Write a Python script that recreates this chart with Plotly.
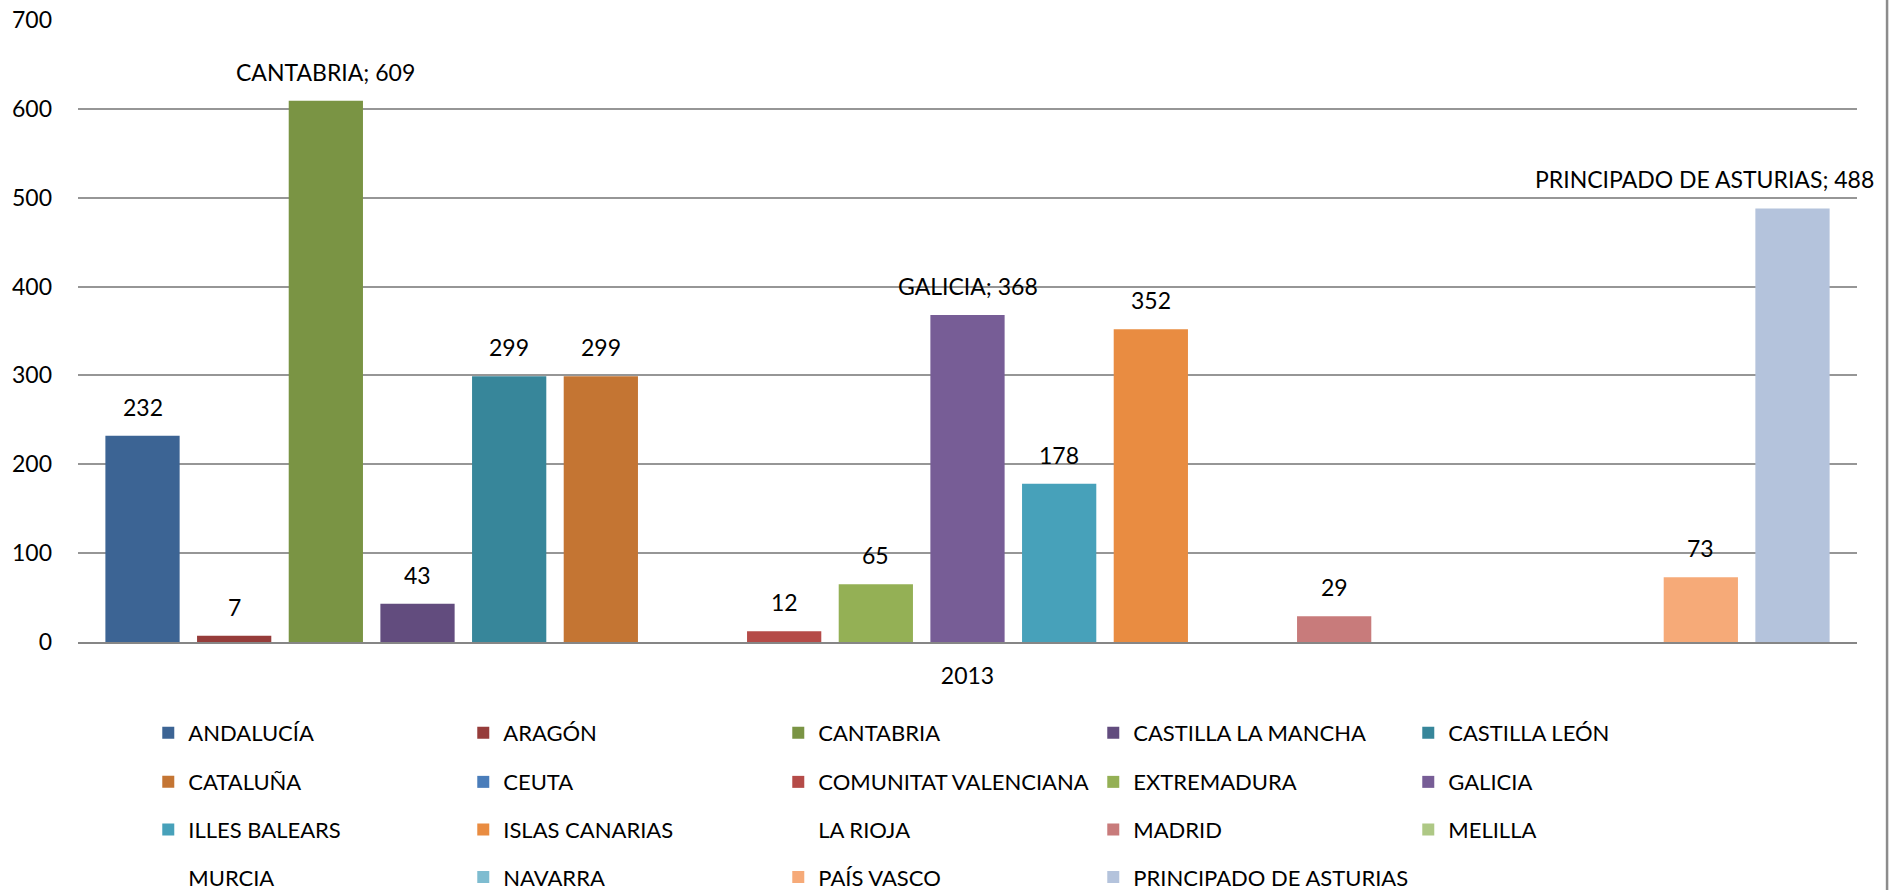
import plotly.graph_objects as go

#%% datos

anio = "2013"
comunidades = ["ANDALUCÍA", "ARAGÓN", "CANTABRIA", "CASTILLA LA MANCHA", "CASTILLA LEÓN",
               "CATALUÑA", "CEUTA", "COMUNITAT VALENCIANA", "EXTREMADURA", "GALICIA",
               "ILLES BALEARS", "ISLAS CANARIAS", "LA RIOJA", "MADRID", "MELILLA",
               "MURCIA", "NAVARRA", "PAÍS VASCO", "PRINCIPADO DE ASTURIAS"]
valores = [232, 7, 609, 43, 299,
           299, None, 12, 65, 368,
           178, 352, None, 29, None,
           None, None, 73, 488]
colores = ["#3C6494", "#963C3A", "#7A9444", "#624C7E", "#37869A",
           "#C47533", "#4A7DBA", "#B54B48", "#94B055", "#775D96",
           "#47A1BA", "#E98C41", "rgba(0,0,0,0)", "#C87B7B", "#AEC885",
           "rgba(0,0,0,0)", "#7EBCD0", "#F6AA78", "#B4C3DC"]
# etiquetas con nombre de serie
con_nombre = ["CANTABRIA", "GALICIA", "PRINCIPADO DE ASTURIAS"]

fuente = "Lato"
bargap = 0.021
n = len(comunidades)

#%% grafico

fig = go.Figure()
for i, (nom, val, col) in enumerate(zip(comunidades, valores, colores)):
    fila = i // 5
    fig.add_trace(go.Bar(
        x=[anio], y=[val], name=nom,
        marker_color=col, marker_line_width=0,
        legend="legend" if fila == 0 else "legend%d" % (fila + 1),
        hovertemplate=nom + ": %{y}<extra></extra>",
    ))

# etiquetas de datos (centro de cada hueco del grupo)
anotaciones = []
for i, (nom, val) in enumerate(zip(comunidades, valores)):
    if val is None:
        continue
    xc = -0.5 + bargap / 2 + (i + 0.5) * (1 - bargap) / n
    texto = "%s; %d" % (nom, val) if nom in con_nombre else str(val)
    a = dict(x=xc, y=val, xref="x", yref="y", text=texto, showarrow=False,
             yanchor="middle", yshift=29, font=dict(family=fuente, size=23, color="black"))
    if nom == "PRINCIPADO DE ASTURIAS":
        a.update(xanchor="right", xshift=84)
    anotaciones.append(a)

leyendas = {}
filas_y = [732.7, 781.7, 829.3, 876.7]
for k, py in enumerate(filas_y):
    clave = "legend" if k == 0 else "legend%d" % (k + 1)
    leyendas[clave] = dict(
        orientation="h", x=0.0395, xanchor="left",
        y=(641.7 - py) / 621.7, yanchor="middle",
        entrywidth=270, entrywidthmode="pixels",
        font=dict(family=fuente, size=22, color="black"),
        bgcolor="rgba(0,0,0,0)", traceorder="normal",
    )

fig.update_layout(
    width=1901, height=890,
    margin=dict(l=78, r=44, t=20, b=248, autoexpand=False),
    paper_bgcolor="white", plot_bgcolor="white",
    barmode="group", bargap=bargap, bargroupgap=0.19,
    font=dict(family=fuente, size=23, color="black"),
    annotations=anotaciones,
    **leyendas,
)
fig.update_yaxes(range=[0, 700], dtick=100, showgrid=True, gridcolor="#969696", gridwidth=1.5,
                 zeroline=False, showline=False, ticks="", ticklabelstandoff=25,
                 tickfont=dict(family=fuente, size=23))
fig.update_xaxes(range=[-0.5, 0.5], showline=True, linecolor="#868686", linewidth=2,
                 ticks="", ticklabelstandoff=12, tickfont=dict(family=fuente, size=23))
# borde derecho del area del grafico
fig.add_shape(type="line", xref="paper", yref="paper", x0=1.0169, x1=1.0169,
              y0=-0.41, y1=1.04, line=dict(color="#8C8C8C", width=2.5))

# sin margen del body para que la figura ocupe la ventana entera
fig.write_html("out.html", config={"displayModeBar": False},
               post_script="document.body.style.margin='0';")
